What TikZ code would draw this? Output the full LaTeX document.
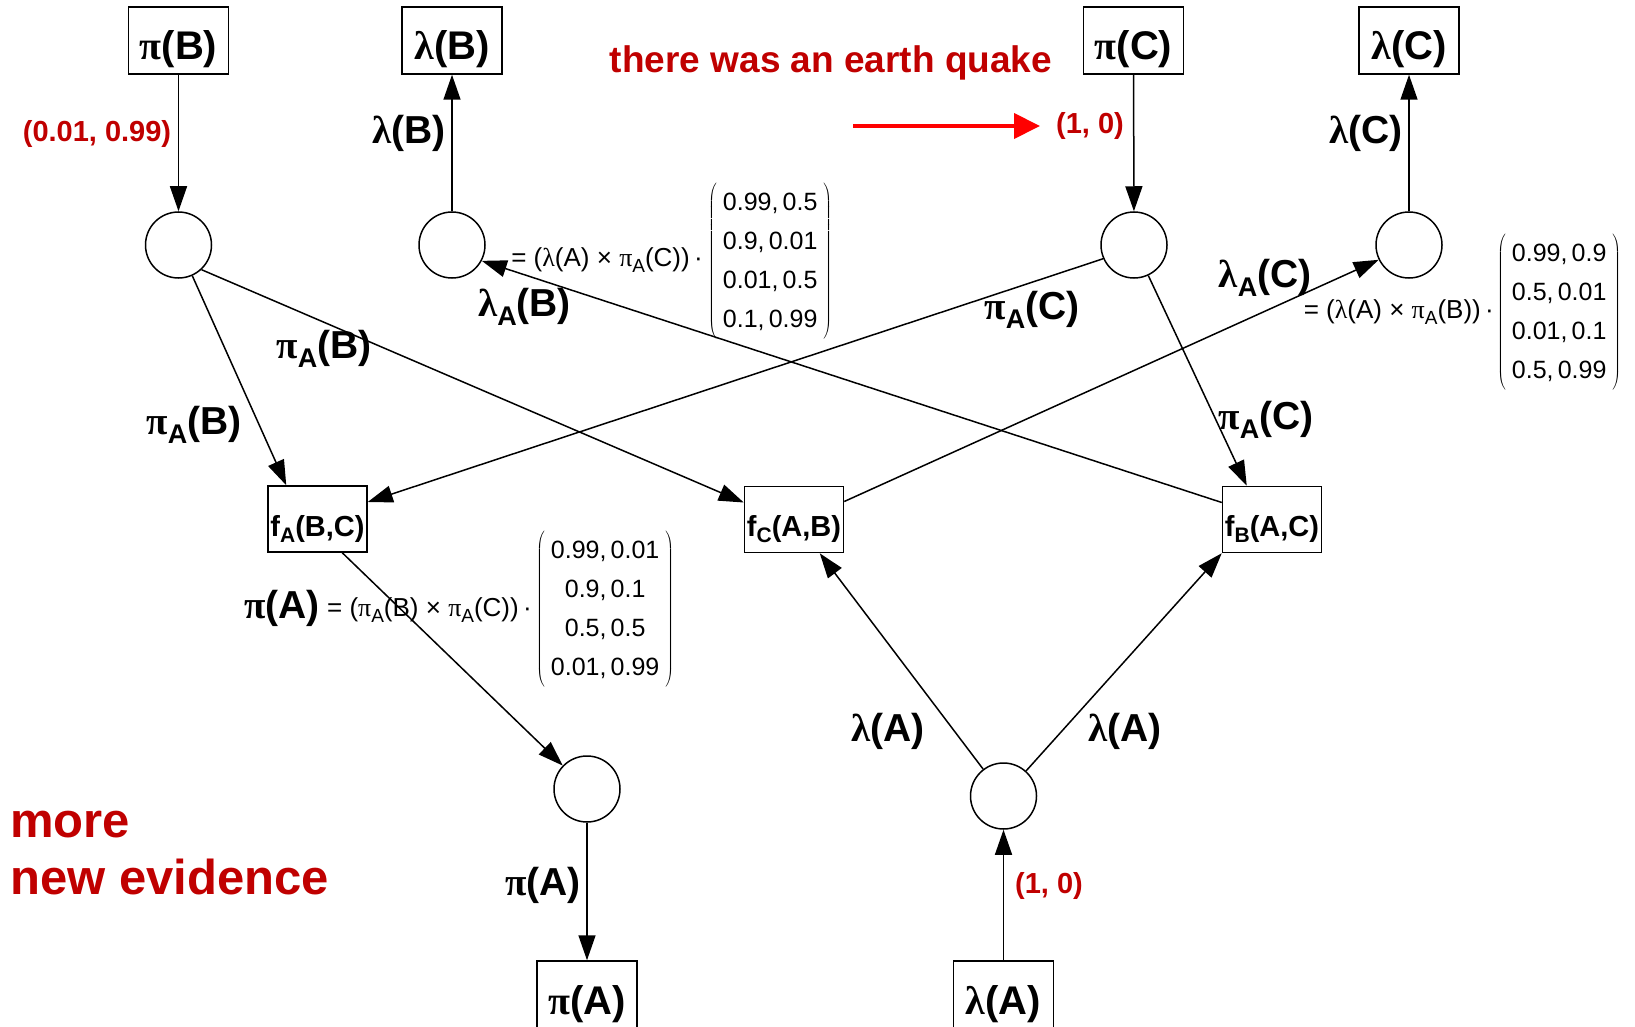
\documentclass[tikz,border=0pt]{standalone}
\usepackage{fontspec}
\usepackage{graphicx}
\setmainfont{Liberation Sans}
\newfontfamily\gr{Liberation Serif}
\usetikzlibrary{arrows.meta,calc}
\newcommand{\gp}{{\gr π}}
\newcommand{\gl}{{\gr λ}}
\newcommand{\sbx}[2]{\raisebox{-0.22em}{\fontsize{#1}{#1}\selectfont #2}}
\newcommand{\matx}[4]{$\left(\begin{tabular}{@{\hspace{6pt}}c@{\hspace{6pt}}}#1\\#2\\#3\\#4\end{tabular}\right)$}
\definecolor{dred}{HTML}{C00000}
\begin{document}
\begin{tikzpicture}[x=1pt,y=-1pt,
 box/.style={draw,line width=1.5pt,minimum width=100pt,minimum height=67pt,inner sep=0pt,text height=39pt,text depth=0pt,font=\fontsize{40}{44}\selectfont\bfseries},
 facbox/.style={draw,line width=1.5pt,minimum width=99pt,minimum height=66pt,inner sep=0pt,text height=34pt,text depth=0pt,font=\fontsize{29}{31}\selectfont\bfseries},
 var/.style={draw,circle,line width=1.5pt,minimum size=66pt,inner sep=0pt},
 arr/.style={line width=1.5pt,-{Triangle[length=25pt,width=17pt]}},
 redarr/.style={line width=4pt,red,-{Triangle[length=26pt,width=25pt]}},
 lbl/.style={inner sep=0pt,font=\fontsize{39}{42}\selectfont\bfseries},
 redlbl/.style={inner sep=0pt,text=dred,font=\fontsize{29}{31}\selectfont\bfseries},
 frm/.style={inner sep=0pt,font=\fontsize{26}{30}\selectfont},
 mat/.style={inner sep=0pt,font=\fontsize{25}{39}\selectfont}]
\fill[white] (0,0) rectangle (1635,1027);
\useasboundingbox (0,0) rectangle (1635,1027);

% boxes
\node[box] (piB) at (178.5,40.5) {\gp(B)};
\node[box] (lamB) at (452,40.5) {\gl(B)};
\node[box] (piC) at (1133.5,40.5) {\gp(C)};
\node[box] (lamC) at (1409,40.5) {\gl(C)};
\node[facbox] (fA) at (317.5,519) {f\sbx{21}{A}(B,C)};
\node[facbox] (fC) at (794,519.5) {f\sbx{21}{C}(A,B)};
\node[facbox] (fB) at (1272,519.5) {f\sbx{21}{B}(A,C)};
\node[box] (piA) at (587,994.5) {\gp(A)};
\node[box] (lamA) at (1003.5,994.5) {\gl(A)};

% variable circles
\node[var] (cB1) at (178.5,245) {};
\node[var] (cB2) at (452,245) {};
\node[var] (cC1) at (1134,245) {};
\node[var] (cC2) at (1409,245) {};
\node[var] (cA1) at (587,789) {};
\node[var] (cA2) at (1003.5,796) {};

% connectors
\draw[arr] (piB) -- (cB1);
\draw[arr] (cB2) -- (lamB);
\draw[arr] (piC) -- (cC1);
\draw[arr] (cC2) -- (lamC);
\draw[arr] (cB1) -- ($(fA.north west)+(19,0)$);
\draw[arr] (cB1.-47) -- ($(fC.west)+(0,-17)$);
\draw[arr] (cC1.204) -- ($(fA.east)+(0,-17)$);
\draw[arr] (cC1) -- ($(fB.north west)+(25,0)$);
\draw[arr] ($(fB.west)+(0,-17)$) -- (cB2.-28);
\draw[arr] ($(fC.east)+(0,-18)$) -- (cC2.206);
\draw[arr] (cA2) -- ($(fC.south west)+(76,0)$);
\draw[arr] (cA2) -- (fB.south west);
\draw[arr] ($(fA.south west)+(75,0)$) -- (cA1);
\draw[arr] (cA1) -- (piA);
\draw[arr] (lamA) -- (cA2);

% red evidence arrow
\coordinate (r1) at (853,126);
\coordinate (r2) at (1040,126);
\draw[redarr] (r1) -- (r2);

% labels
\node[redlbl] (l1) at (97,134) {(0.01, 0.99)};
\node[lbl] (l2) at (409,133) {\gl(B)};
\node[lbl] (l3) at (1366,133) {\gl(C)};
\node[redlbl] (l4) at (1090,126) {(1, 0)};
\node[redlbl] (l5) at (1049,886) {(1, 0)};
\node[lbl] (l6) at (324,349) {\gp\sbx{27}{A}(B)};
\node[lbl] (l7) at (194,425) {\gp\sbx{27}{A}(B)};
\node[lbl] (l8) at (524.5,307) {\gl\sbx{27}{A}(B)};
\node[lbl] (l9) at (1032,310) {\gp\sbx{27}{A}(C)};
\node[lbl] (l10) at (1265,278) {\gl\sbx{27}{A}(C)};
\node[lbl] (l11) at (1266,420) {\gp\sbx{27}{A}(C)};
\node[lbl] (l12) at (888,731) {\gl(A)};
\node[lbl] (l13) at (1125,731) {\gl(A)};
\node[lbl] (l14) at (543,885) {\gp(A)};
\node[lbl] (l15) at (282,608) {\gp(A)};

\node[inner sep=0pt,anchor=base,text=dred,font=\fontsize{37}{40}\selectfont\bfseries] (quake) at (831,73) {there was an earth quake};
\node[inner sep=0pt,anchor=base west,text=dred,font=\fontsize{49}{57}\selectfont\bfseries] (more) at (10,837) {more};
\node[inner sep=0pt,anchor=base west,text=dred,font=\fontsize{49}{57}\selectfont\bfseries] (newev) at (10,894) {new evidence};

% formulas
\node[frm,anchor=east] (frmB) at (703,260) {=\;({\gr λ}(A)\;×\;{\gr π}\sbx{19}{A}(C))\,·};
\node[mat,anchor=west] (matB) at (708,261) {\matx{0.99,\,0.5}{0.9,\,0.01}{0.01,\,0.5}{0.1,\,0.99}};
\node[frm,anchor=east] (frmC) at (1494,312) {=\;({\gr λ}(A)\;×\;{\gr π}\sbx{19}{A}(B))\,·};
\node[mat,anchor=west] (matC) at (1497,312.5) {\matx{0.99,\,0.9}{0.5,\,0.01}{0.01,\,0.1}{0.5,\,0.99}};
\node[frm,anchor=east] (frmA) at (532,610) {=\;({\gr π}\sbx{19}{A}(B)\;×\;{\gr π}\sbx{19}{A}(C))\,·};
\node[mat,anchor=west] (matA) at (536,609) {\matx{0.99,\,0.01}{0.9,\,0.1}{0.5,\,0.5}{0.01,\,0.99}};
\end{tikzpicture}
\end{document}
